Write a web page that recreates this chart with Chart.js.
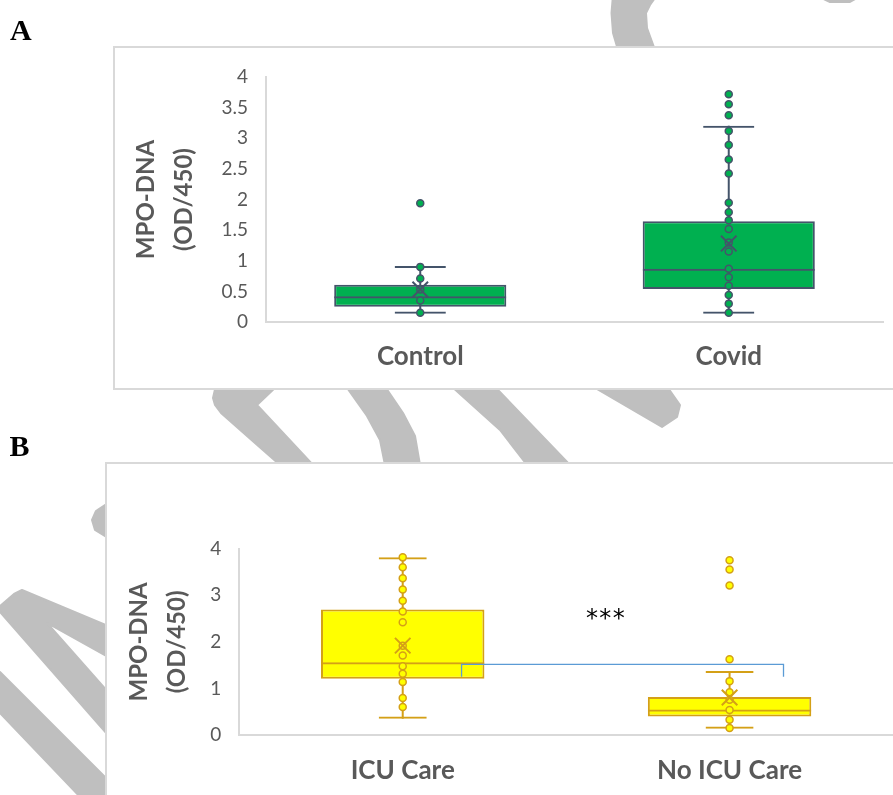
<!DOCTYPE html>
<html>
<head>
<meta charset="utf-8">
<script src="https://cdn.jsdelivr.net/npm/chart.js@4.4.1/dist/chart.umd.min.js"></script>
<style>
  html, body { margin: 0; padding: 0; background: #fff; width: 893px; height: 795px; overflow: hidden; position: relative; }
  .mark { position: absolute; left: 0; top: 0; width: 893px; height: 795px; z-index: 0; }
  .frame { position: absolute; box-sizing: border-box; border: 2px solid #d9d9d9; background: #fff; z-index: 1; }
  #frameA { left: 113px; top: 46px; width: 800px; height: 344px; }
  #frameB { left: 105px; top: 462px; width: 800px; height: 360px; }
  .panel { position: absolute; left: 0; z-index: 2; }
  #boxA { top: 0; width: 893px; height: 395px; }
  #boxB { top: 400px; width: 893px; height: 395px; }
  .tag { position: absolute; font-family: 'Liberation Serif', serif; font-weight: bold; font-size: 30px; line-height: 30px; color: #000; z-index: 3; }
</style>
</head>
<body>
<!-- grey background strokes behind the two panels -->
<svg class="mark" viewBox="0 0 893 795" xmlns="http://www.w3.org/2000/svg">
  <g fill="#bfbfbf" stroke="#bfbfbf" stroke-width="2" stroke-linejoin="round">
    <path d="M613,-5 L611.5,13 L613,33 L618,50 L655,50 L647,28 L646,13 L650,5 L657,-5 Z"/>
    <path d="M815,-5 L830,2 L850,2 L862,-5 Z"/>
    <path d="M216,385 L213,398 L215,405 L221,413 L280,465 L313,465 L257,405 L278,385 Z"/>
    <path d="M345,385 L367,416 L380,440 L385,465 L420,465 L415,436 L403,413 L384,385 Z"/>
    <path d="M450,385 L500,430 L527,465 L570,465 L498,390 L494,385 Z"/>
    <path d="M590,385 L662,427 L677,417 L680,405 L666,385 Z"/>
    <path d="M108,503 L96,511 L92,520 L95,530 L108,538 Z"/>
    <path d="M0,606 L14,594 L22,590 L108,626 L108,657 L47,623 L108,692 L108,735 L0,612 Z"/>
    <path d="M0,672 L108,780 L108,800 L83,800 L0,713 Z"/>
  </g>
</svg>

<div class="tag" style="left:10px; top:15px;">A</div>
<div class="tag" style="left:9.5px; top:431px;">B</div>

<div class="frame" id="frameA"></div>
<div class="frame" id="frameB"></div>

<div class="panel" id="boxA"><canvas id="chartA"></canvas></div>
<div class="panel" id="boxB"><canvas id="chartB"></canvas></div>

<script>
// ---- Panel A: Control vs Covid ----
const groupsA = ['Control', 'Covid'];
const q1A = [0.25, 0.54];
const medianA = [0.42, 0.87];
const q3A = [0.61, 1.645];
const whiskerLowA = [0.135, 0.135];
const whiskerHighA = [0.915, 3.205];
const meanA = [0.53, 1.28];
const controlPoints = [1.94, 0.90, 0.71, 0.53, 0.35, 0.15];
const covidPoints = [3.72, 3.555, 3.375, 3.12, 2.89, 2.655, 2.425, 1.945, 1.79, 1.66, 1.52, 1.30, 1.15, 0.87, 0.73, 0.59, 0.44, 0.30, 0.15];
const yTicksA = [0, 0.5, 1, 1.5, 2, 2.5, 3, 3.5, 4];
const yTickLabelsA = ['0', '0.5', '1', '1.5', '2', '2.5', '3', '3.5', '4'];

// ---- Panel B: ICU Care vs No ICU Care ----
const groupsB = ['ICU Care', 'No ICU Care'];
const q1B = [1.21, 0.405];
const medianB = [1.565, 0.555];
const q3B = [2.695, 0.82];
const whiskerLowB = [0.357, 0.14];
const whiskerHighB = [3.81, 1.375];
const meanB = [1.92, 0.81];
const icuPoints = [3.81, 3.60, 3.365, 3.12, 2.88, 2.65, 2.42, 1.92, 1.71, 1.48, 1.32, 1.14, 0.80, 0.605];
const noIcuPoints = [3.75, 3.55, 3.21, 1.63, 1.16, 0.92, 0.76, 0.54, 0.335, 0.155];
const yTicksB = [0, 1, 2, 3, 4];
const yTickLabelsB = ['0', '1', '2', '3', '4'];

// significance bracket between the two groups (x as category index, y in OD)
const bracketX = [0.18, 0.18, 1.165, 1.165];
const bracketY = [1.255, 1.52, 1.52, 1.255];
const sigText = '***';
const sigPos = [0.62, 2.6];

const TEXT = '#595959';
const AXIS = '#d9d9d9';

function boxPlotDatasets(groups, s) {
  const pair = (a, b) => groups.map((_, i) => [a[i], b[i]]);
  const common = { type: 'bar', grouped: false, categoryPercentage: 1, borderSkipped: false, inflateAmount: 0 };
  const clear = 'rgba(0,0,0,0)';
  return [
    // whisker stem
    { ...common, data: pair(s.lo, s.hi), backgroundColor: s.line, borderWidth: 0, barThickness: 2, order: 6 },
    // interquartile box
    { ...common, data: pair(s.q1, s.q3), backgroundColor: s.fill, borderColor: s.line, borderWidth: 2, barPercentage: s.boxW, order: 5 },
    // median line
    { ...common, data: pair(s.q1, s.med), backgroundColor: clear, borderColor: s.line,
      borderWidth: { top: 2, right: 0, bottom: 0, left: 0 }, barPercentage: s.boxW, order: 4 },
    // upper cap
    { ...common, data: pair(s.q3, s.hi), backgroundColor: clear, borderColor: s.line,
      borderWidth: { top: 2, right: 0, bottom: 0, left: 0 }, barPercentage: s.capW, order: 3 },
    // lower cap
    { ...common, data: pair(s.lo, s.q1), backgroundColor: clear, borderColor: s.line,
      borderWidth: { top: 0, right: 0, bottom: 2, left: 0 }, barPercentage: s.capW, order: 3 },
    // individual observations
    { type: 'line', showLine: false, order: 1,
      data: s.points.flatMap((vals, i) => vals.map(v => ({ x: groups[i], y: v }))),
      pointRadius: 3.5, pointBorderWidth: 1.5, pointBackgroundColor: s.fill, pointBorderColor: s.line },
    // group means
    { type: 'line', showLine: false, order: 0,
      data: groups.map((g, i) => ({ x: g, y: s.mean[i] })),
      pointStyle: 'crossRot', pointRadius: 11, pointBorderWidth: 2, pointBorderColor: s.line, pointBackgroundColor: clear }
  ];
}

function yAxis(ticks, labels, width, titlePad) {
  return {
    min: 0, max: 4,
    afterBuildTicks: sc => { sc.ticks = ticks.map(v => ({ value: v })); },
    afterFit: sc => { sc.width = width; },
    grid: { display: true, drawOnChartArea: false, drawTicks: false },
    border: { display: true, color: AXIS, width: 2 },
    ticks: { font: { family: 'Lato', size: 19 }, color: TEXT, padding: 18,
      callback: (v, i) => labels[i] },
    title: { display: true, text: ['MPO-DNA', '(OD/450)'], color: TEXT,
      font: { family: 'Lato', size: 24, weight: 'bold', lineHeight: 1.58 },
      padding: { top: titlePad, bottom: 0 } }
  };
}

function xAxis(height, pad) {
  return {
    afterFit: sc => { sc.height = height; sc.paddingLeft = 0; sc.paddingRight = 0; },
    grid: { display: true, drawOnChartArea: false, drawTicks: false },
    border: { display: true, color: AXIS, width: 2 },
    ticks: { font: { family: 'Lato', size: 26, weight: 'bold' }, color: TEXT, padding: pad }
  };
}

const baseOptions = {
  responsive: true,
  maintainAspectRatio: false,
  animation: false,
  plugins: { legend: { display: false }, tooltip: { enabled: false } },
  events: []
};

new Chart(document.getElementById('chartA'), {
  type: 'bar',
  data: {
    labels: groupsA,
    datasets: boxPlotDatasets(groupsA, {
      q1: q1A, med: medianA, q3: q3A, lo: whiskerLowA, hi: whiskerHighA, mean: meanA,
      points: [controlPoints, covidPoints],
      fill: '#00b050', line: '#44546a', boxW: 0.558, capW: 0.166
    })
  },
  options: {
    ...baseOptions,
    layout: { autoPadding: false, padding: { top: 77, right: 10, bottom: 0, left: 0 } },
    scales: { x: xAxis(73, 19), y: yAxis(yTicksA, yTickLabelsA, 266, 127.5) }
  }
});

// "***" label placed in data coordinates of the category / value axes
const sigPlugin = {
  id: 'sigText',
  afterDatasetsDraw(chart) {
    const { ctx } = chart;
    const x = chart.scales.x.getPixelForValue(sigPos[0]);
    const y = chart.scales.y.getPixelForValue(sigPos[1]);
    ctx.save();
    ctx.font = '24px "DejaVu Sans"';
    ctx.fillStyle = '#000';
    ctx.textAlign = 'center';
    ctx.textBaseline = 'middle';
    [...sigText].forEach((c, i) => ctx.fillText(c, x + (i - 1) * 13.3, y + 6));
    ctx.restore();
  }
};

new Chart(document.getElementById('chartB'), {
  type: 'bar',
  data: {
    labels: groupsB,
    datasets: [
      ...boxPlotDatasets(groupsB, {
        q1: q1B, med: medianB, q3: q3B, lo: whiskerLowB, hi: whiskerHighB, mean: meanB,
        points: [icuPoints, noIcuPoints],
        fill: '#ffff00', line: '#d4a017', boxW: 0.5, capW: 0.147
      }),
      // bracket: unparsed points so fractional category positions are kept
      { type: 'line', order: 2, parsing: false,
        data: bracketX.map((x, i) => ({ x, y: bracketY[i] })),
        borderColor: '#5b9bd5', borderWidth: 1.3, pointRadius: 0, fill: false, tension: 0 }
    ]
  },
  options: {
    ...baseOptions,
    layout: { autoPadding: false, padding: { top: 148.5, right: 0, bottom: 0, left: 0 } },
    scales: {
      x: xAxis(59.7, 20),
      y: yAxis(yTicksB, yTickLabelsB, 239.3, 120.1)
    }
  },
  plugins: [sigPlugin]
});
</script>
</body>
</html>
